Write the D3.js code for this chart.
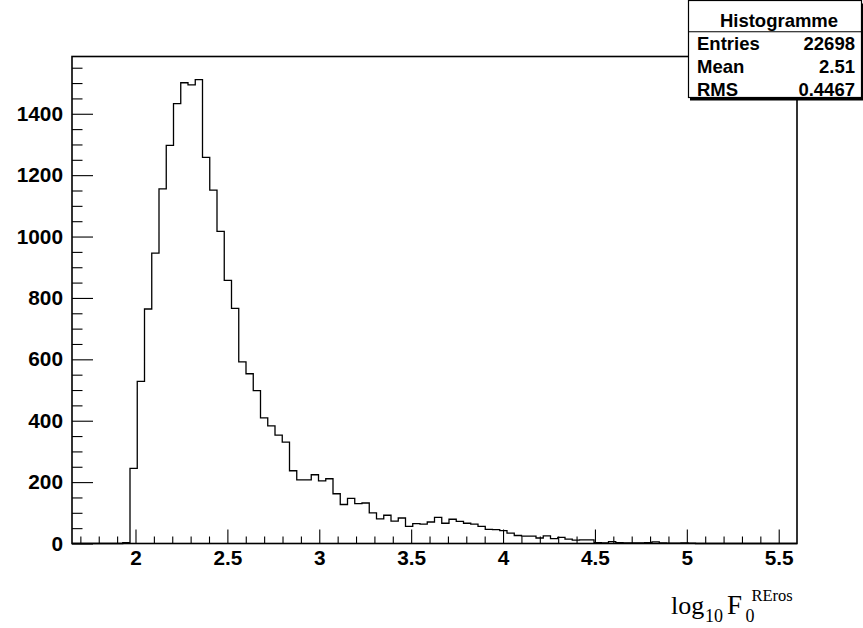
<!DOCTYPE html>
<html><head><meta charset="utf-8">
<script src="https://cdn.jsdelivr.net/npm/d3@7"></script>
<style>
html,body{margin:0;padding:0;background:#fff;}
svg{display:block;}
</style></head>
<body>
<svg id="c" width="863" height="628"></svg>
<script>
// ---- data ----
const xMin = 1.6545, xMax = 5.5995, nBins = 100;
const counts = [
  0,0,0,0,0,0,0,3,245,528,
  764,946,1155,1297,1433,1501,1494,1511,1258,1151,
  1017,857,766,592,553,498,409,383,353,330,
  237,207,207,224,204,211,162,127,147,130,
  132,100,80,92,73,83,56,65,63,70,
  85,66,79,72,66,63,56,46,45,42,
  34,26,24,24,18,25,16,20,14,11,
  12,12,3,2,6,3,2,2,2,3,
  5,2,1,1,2,1,0,0,0,0,
  0,0,0,0,0,0,0,0,0,0
];
const xMajorTicks = [2, 2.5, 3, 3.5, 4, 4.5, 5, 5.5];
const xTickLabels = ["2", "2.5", "3", "3.5", "4", "4.5", "5", "5.5"];
const yMajorTicks = [0, 200, 400, 600, 800, 1000, 1200, 1400];
const yTickLabels = ["0", "200", "400", "600", "800", "1000", "1200", "1400"];
const statsTitle = "Histogramme";
const statsNames = ["Entries", "Mean", "RMS"];
const statsValues = ["22698", "2.51", "0.4467"];

// ---- layout ----
const L = 72, R = 797, T = 56.5, B = 543.5;
const svg = d3.select("#c");
const sans = "'Liberation Sans', Arial, Helvetica, sans-serif";
const serif = "'Liberation Serif', 'Times New Roman', serif";

const binW = (xMax - xMin) / nBins;
const yMax = 1.05 * d3.max(counts);
const x = d3.scaleLinear().domain([xMin, xMax]).range([L, R]);
const y = d3.scaleLinear().domain([0, yMax]).range([B, T]);

// histogram outline
const pts = [];
counts.forEach((c, i) => {
  pts.push([xMin + i * binW, c]);
  pts.push([xMin + (i + 1) * binW, c]);
});
svg.append("path")
  .attr("d", d3.line().x(d => x(d[0])).y(d => y(d[1]))(pts))
  .attr("fill", "none").attr("stroke", "#000").attr("stroke-width", 1.3);

// minor ticks
const xMinor = d3.range(17, 56).map(v => v / 10).filter(v => !xMajorTicks.some(m => Math.abs(m - v) < 1e-9));
const yMinor = d3.range(0, 1600, 50).filter(v => v % 200 !== 0);

const gxm = svg.append("g").attr("transform", `translate(0,${B})`)
  .call(d3.axisBottom(x).tickValues(xMinor).tickSize(-7).tickFormat(""));
const gym = svg.append("g").attr("transform", `translate(${L},0)`)
  .call(d3.axisLeft(y).tickValues(yMinor).tickSize(-10.5).tickFormat(""));

const gx = svg.append("g").attr("transform", `translate(0,${B})`)
  .call(d3.axisBottom(x).tickValues(xMajorTicks).tickSize(-14).tickPadding(7)
    .tickFormat((d, i) => xTickLabels[i]));
const gy = svg.append("g").attr("transform", `translate(${L},0)`)
  .call(d3.axisLeft(y).tickValues(yMajorTicks).tickSize(-21).tickPadding(9)
    .tickFormat((d, i) => yTickLabels[i]));

[gxm, gym, gx, gy].forEach(g => {
  g.select(".domain").remove();
  g.selectAll(".tick line").attr("stroke", "#000").attr("stroke-width", 1.1);
  g.selectAll("text").attr("fill", "#000").style("font-family", sans)
    .style("font-weight", "bold").style("font-size", "20.8px");
});

// frame
svg.append("rect").attr("x", L).attr("y", T).attr("width", R - L).attr("height", B - T)
  .attr("fill", "none").attr("stroke", "#000").attr("stroke-width", 1.6);

// stats box
const bx = 688.5, by = 0.5, bw = 173, bh = 97;
svg.append("rect").attr("x", bx + 1.5).attr("y", by + 3).attr("width", bw + 2).attr("height", bh)
  .attr("fill", "#000");
svg.append("rect").attr("x", bx).attr("y", by).attr("width", bw).attr("height", bh)
  .attr("fill", "#fff").attr("stroke", "#000").attr("stroke-width", 1.2);
svg.append("line").attr("x1", bx).attr("x2", bx + bw).attr("y1", 31.7).attr("y2", 31.7)
  .attr("stroke", "#000").attr("stroke-width", 1.1);
const fs = "18.5px";
svg.append("text").attr("x", 779).attr("y", 26.5).attr("text-anchor", "middle")
  .style("font-family", sans).style("font-weight", "bold").style("font-size", fs)
  .text(statsTitle);
const rowY = [50, 72.7, 95.8];
statsNames.forEach((n, i) => {
  svg.append("text").attr("x", 697).attr("y", rowY[i])
    .style("font-family", sans).style("font-weight", "bold").style("font-size", fs).text(n);
  svg.append("text").attr("x", 855).attr("y", rowY[i]).attr("text-anchor", "end")
    .style("font-family", sans).style("font-weight", "bold").style("font-size", fs).text(statsValues[i]);
});

// axis title: log10 F0^REros
const tg = svg.append("g").style("font-family", serif).attr("fill", "#000");
tg.append("text").attr("x", 671).attr("y", 614).style("font-size", "26px").text("log");
tg.append("text").attr("x", 705).attr("y", 621.5).style("font-size", "18px").text("10");
tg.append("text").attr("x", 727).attr("y", 614).style("font-size", "27px").text("F");
tg.append("text").attr("x", 745.5).attr("y", 621.5).style("font-size", "18px").text("0");
tg.append("text").attr("x", 751.5).attr("y", 601).style("font-size", "16.5px").text("REros");
</script>
</body></html>
